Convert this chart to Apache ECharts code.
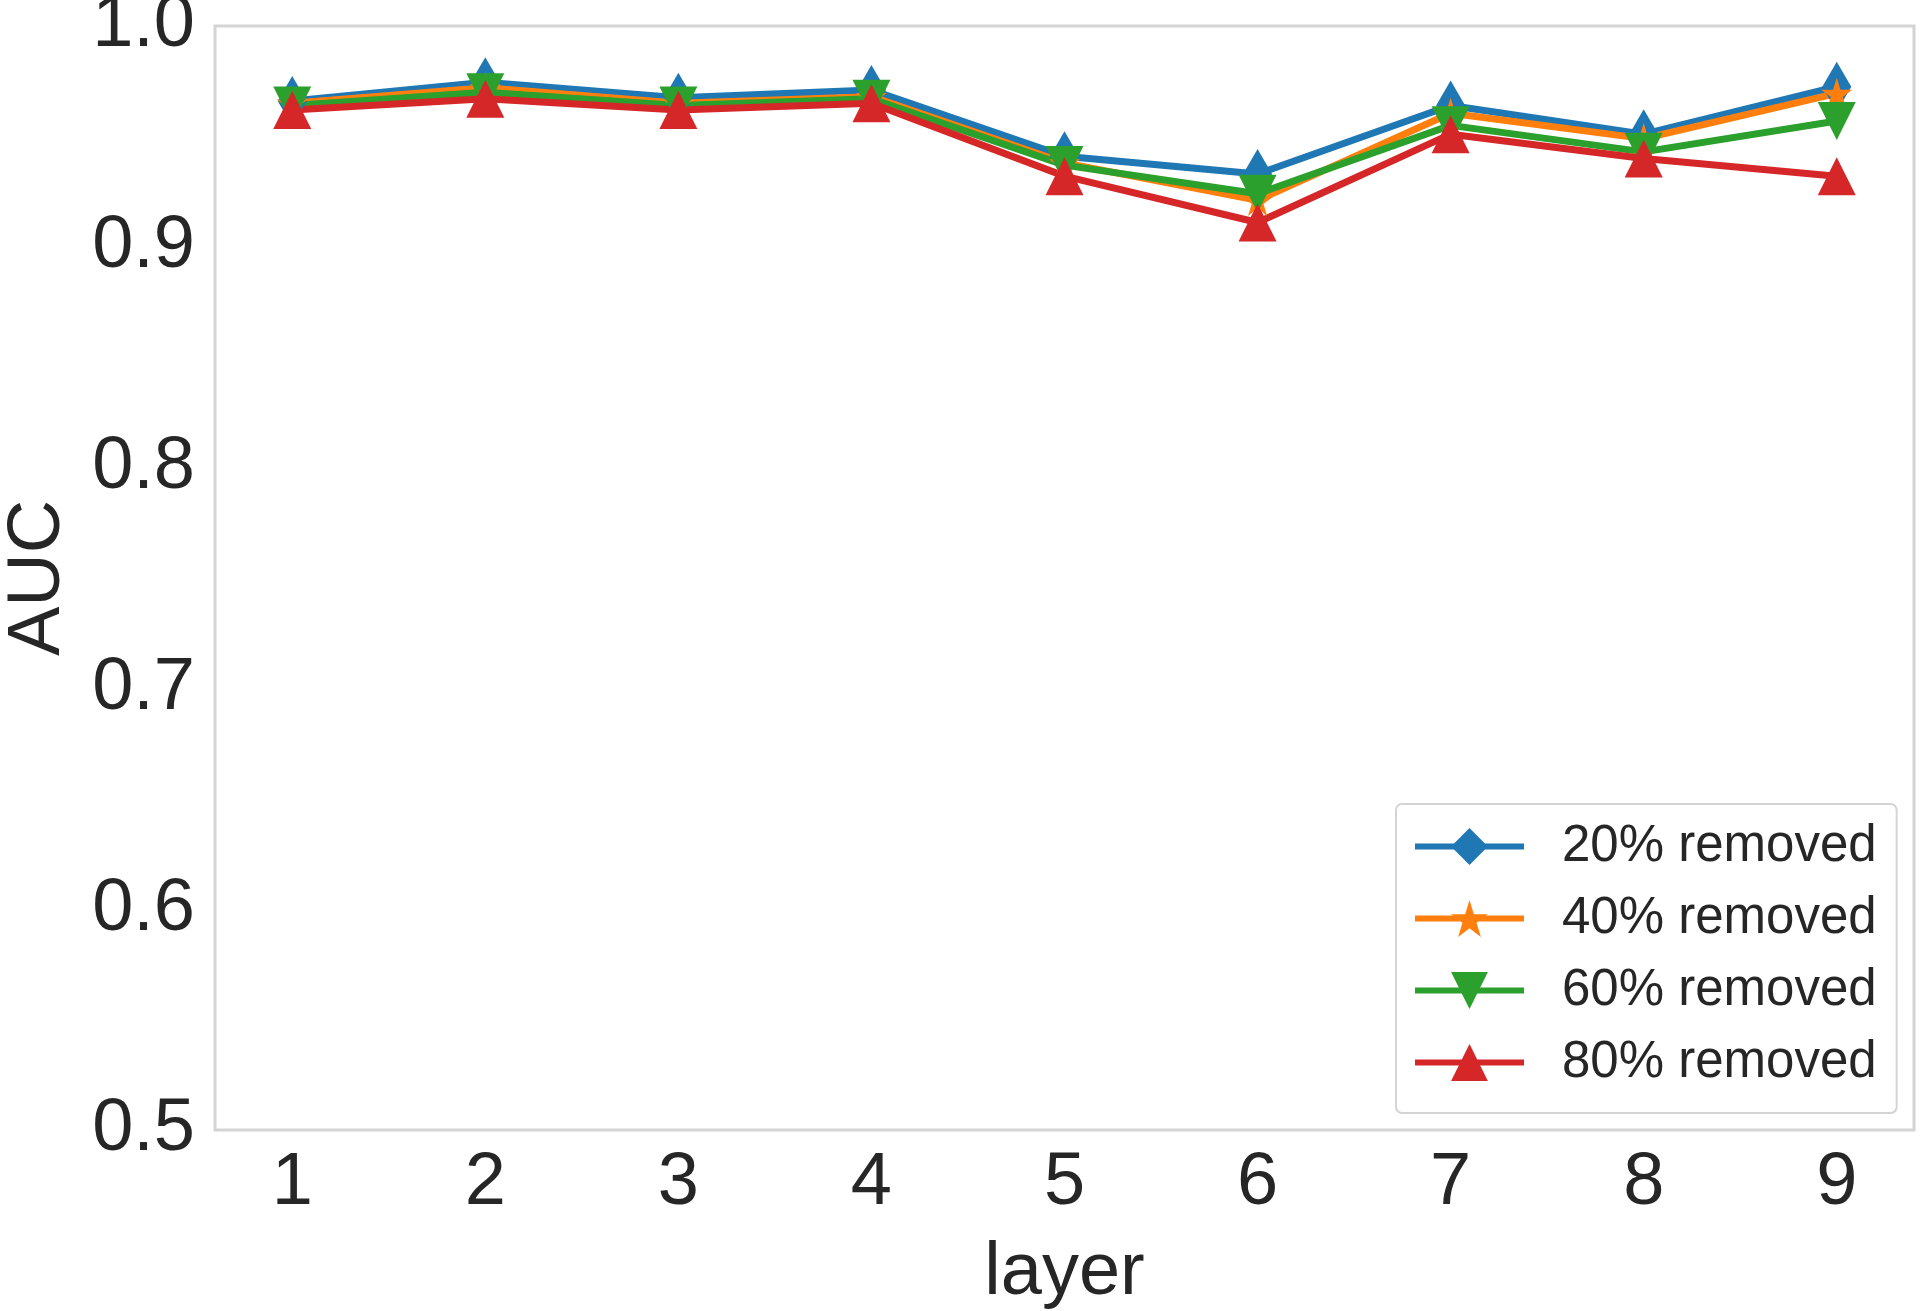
<!DOCTYPE html>
<html>
<head>
<meta charset="utf-8">
<script src="https://cdn.jsdelivr.net/npm/echarts@6/dist/echarts.min.js"></script>
<style>
  html, body { margin: 0; padding: 0; background: #fff; }
  #chart { width: 1920px; height: 1311px; }
</style>
</head>
<body>
<div id="chart"></div>
<script>
// layers on the x axis
var layers = [1, 2, 3, 4, 5, 6, 7, 8, 9];
var yTicks = [0.5, 0.6, 0.7, 0.8, 0.9, 1.0];

// AUC per layer
var removed20 = [0.966, 0.9745, 0.9675, 0.971, 0.941, 0.933, 0.964, 0.951, 0.9725];
var removed40 = [0.965, 0.972, 0.965, 0.968, 0.938, 0.921, 0.9605, 0.949, 0.9695];
var removed60 = [0.964, 0.970, 0.964, 0.967, 0.937, 0.924, 0.955, 0.943, 0.957];
var removed80 = [0.962, 0.967, 0.962, 0.965, 0.932, 0.911, 0.951, 0.940, 0.932];

var names = ['20% removed', '40% removed', '60% removed', '80% removed'];
var colors = ['#1f77b4', '#ff7f0e', '#2ca02c', '#d62728'];

var starPath = 'path://M50,0L61.23,34.55L97.55,34.55L68.16,55.9L79.39,90.45L50,69.1L20.61,90.45L31.84,55.9L2.45,34.55L38.77,34.55Z';

function pairs(vals) {
    return layers.map(function (x, i) { return [x, vals[i]]; });
}

function lineSeries(name, vals, color, symbol, size, rotate) {
    return {
        name: name,
        type: 'line',
        data: pairs(vals),
        symbol: symbol,
        symbolSize: size,
        symbolRotate: rotate || 0,
        showAllSymbol: true,
        lineStyle: { color: color, width: 7 },
        itemStyle: { color: color, borderWidth: 0 },
        emphasis: { disabled: true }
    };
}

var txt = '#262626';
var font = '"Liberation Sans", Arial, sans-serif';

var option = {
    animation: false,
    backgroundColor: '#fff',
    color: colors,
    grid: {
        left: 215, top: 26, right: 6, bottom: 181,
        outerBoundsMode: 'none',
        containLabel: false,
        show: true,
        borderColor: '#d4d4d4',
        borderWidth: 3,
        backgroundColor: '#fff'
    },
    xAxis: {
        type: 'value',
        min: 0.6,
        max: 9.4,
        name: 'layer',
        nameLocation: 'middle',
        nameGap: 107,
        nameMoveOverlap: false,
        nameTextStyle: { fontSize: 74, color: txt, fontFamily: font },
        axisLine: { show: false },
        axisTick: { show: false },
        splitLine: { show: false },
        axisLabel: {
            customValues: layers,
            fontSize: 74,
            color: txt,
            fontFamily: font,
            margin: 17
        }
    },
    yAxis: {
        type: 'value',
        min: 0.5,
        max: 1.0,
        interval: 0.1,
        name: 'AUC',
        nameLocation: 'middle',
        nameRotate: 90,
        nameGap: 139,
        nameMoveOverlap: false,
        nameTextStyle: { fontSize: 74, color: txt, fontFamily: font },
        axisLine: { show: false },
        axisTick: { show: false },
        splitLine: { show: false },
        axisLabel: {
            fontSize: 74,
            color: txt,
            fontFamily: font,
            margin: 20,
            formatter: function (v) { return v.toFixed(1); }
        }
    },
    legend: {
        orient: 'vertical',
        left: 1396,
        top: 804,
        align: 'left',
        itemWidth: 109,
        itemHeight: 46,
        itemGap: 21,
        padding: [17, 20, 25, 16],
        backgroundColor: '#fff',
        borderColor: '#d4d4d4',
        borderWidth: 2,
        borderRadius: 6,
        lineStyle: { width: 6 },
        textStyle: { fontSize: 51, color: txt, fontFamily: font, padding: [0, 0, 0, 33] },
        data: names
    },
    series: [
        lineSeries(names[0], removed20, colors[0], 'diamond', [29, 50]),
        lineSeries(names[1], removed40, colors[1], starPath, 31),
        lineSeries(names[2], removed60, colors[2], 'triangle', 38, 180),
        lineSeries(names[3], removed80, colors[3], 'triangle', 38)
    ]
};

var chart = echarts.init(document.getElementById('chart'));
chart.setOption(option);
</script>
</body>
</html>
